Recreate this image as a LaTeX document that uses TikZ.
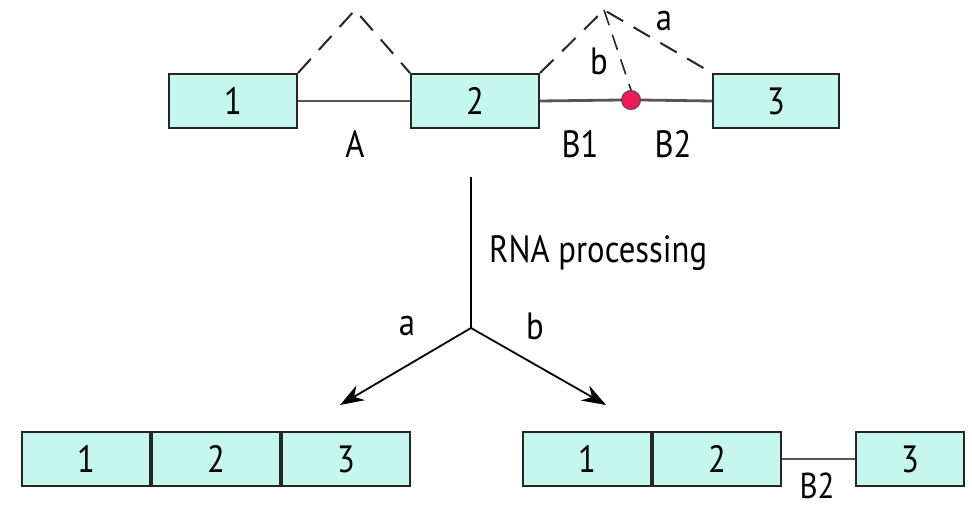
\documentclass[tikz,border=0pt]{standalone}
\usepackage{fontspec}
\setmainfont{PT Sans}[FakeStretch=0.86]
\usepackage{tikz}
\usetikzlibrary{arrows.meta, positioning}
\definecolor{exonfill}{HTML}{C6F7EC}
\definecolor{introngray}{HTML}{555555}
\definecolor{bpred}{HTML}{F0185A}
\tikzstyle{exon}=[rectangle, draw=black!85, fill=exonfill, line width=2pt, minimum width=128pt, minimum height=54pt, inner sep=0pt, font=\fontsize{38}{44}\selectfont]
\tikzstyle{intron}=[draw=introngray, line width=2.8pt]
\tikzstyle{splice}=[draw=black!85, line width=2pt, dash pattern=on 19pt off 12pt]
\tikzstyle{branch}=[circle, draw=black!70, fill=bpred, line width=1pt, minimum width=17pt, minimum height=19pt, inner sep=0pt]
\tikzstyle{lbl}=[font=\fontsize{38}{44}\selectfont, inner sep=0pt]

\begin{document}
\begin{tikzpicture}[x=1pt, y=-1pt, >={Stealth[length=24pt, width=17pt]}]
          \useasboundingbox (0,0) rectangle (972,511);
          % pre-mRNA
          \node[exon] (e1) at (233,101) {1};
          \node[exon] (e2) at (475,101) {2};
          \node[exon, minimum width=126pt] (e3) at (776,101) {3};
          \node[branch] (bp) at (631,100) {};
          \draw[intron] (e1.east) -- (e2.west);
          \draw[intron] (e2.east) -- (bp.west);
          \draw[intron] (bp.east) -- (e3.west);
          \coordinate (peakA) at (355,10);
          \coordinate (peakB) at (604,10);
          \draw[splice] (e1.north east) -- (peakA) -- (e2.north west);
          \draw[splice] (e2.north east) -- (peakB) -- (e3.north west);
          \draw[draw=black!85, line width=1.6pt, dash pattern=on 16pt off 10pt] (peakB) -- (bp.north);
          \node[lbl] (labA) at (355,144) {A};
          \node[lbl] (labB1) at (580,144) {B1};
          \node[lbl] (labB2) at (673,144) {B2};
          \node[lbl] (laba) at (664,21) {a};
          \node[lbl] (labb) at (599,61) {b};

          % processing
          \coordinate (start) at (471,177);
          \coordinate (fork) at (471,328);
          \coordinate (enda) at (340,405);
          \coordinate (endb) at (606,405);
          \draw[line width=1.8pt] (start) -- (fork);
          \draw[->, line width=1.8pt] (fork) -- (enda);
          \draw[->, line width=1.8pt] (fork) -- (endb);
          \node[lbl, anchor=west] (proc) at (489,253) {RNA processing};
          \node[lbl] (arrA) at (407,326) {a};
          \node[lbl] (arrB) at (535,326) {b};

          % products
          \node[exon] (r1) at (86,459) {1};
          \node[exon, right=0pt of r1] (r2) {2};
          \node[exon, right=0pt of r2] (r3) {3};
          \node[exon] (s1) at (587,459) {1};
          \node[exon, right=0pt of s1] (s2) {2};
          \node[exon, minimum width=108pt] (s3) at (910,459) {3};
          \draw[intron] (s2.east) -- (s3.west);
          \node[lbl, font=\fontsize{36}{42}\selectfont] (labB2r) at (817,486) {B2};
        \end{tikzpicture}
\end{document}
